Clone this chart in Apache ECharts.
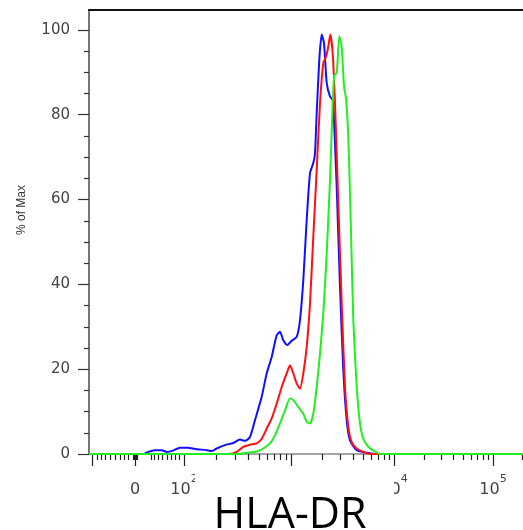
<!DOCTYPE html>
<html>
<head>
<meta charset="utf-8">
<script src="https://cdn.jsdelivr.net/npm/echarts@6/dist/echarts.min.js"></script>
<style>html,body{margin:0;padding:0;background:#fff;}#c{width:523px;height:530px;}</style>
</head>
<body>
<div id="c"></div>
<script>
// x values are display channels of the biexponential (logicle) axis; y values are % of Max
const xMin = 0, xMax = 434;
const majorTickPos = [3, 46, 95, 202, 305, 404];
const labelPos = [46, 95, 202, 305, 404];
const labelBase = ['0', '10', '10', '10', '10'];
const labelExp = ['', '2', '3', '4', '5'];
const linearMinorTicks = [8, 12, 16, 21, 26, 31, 35, 39, 44, 45, 47, 48, 62, 65, 69, 73, 78, 82, 86, 90];
const decadeAnchors = [95, 202, 305, 404, 500];
const yTicks = [0, 20, 40, 60, 80, 100];
const yMinorTicks = [5, 10, 15, 25, 30, 35, 45, 50, 55, 65, 70, 75, 85, 90, 95];

const blueCurve = [[0,0],[55,0],[59.3,0.5],[66,0.9],[72.7,0.9],[77.7,0.5],[84,0.8],[91,1.5],[99.3,1.5],[106,1.2],[117.7,0.9],[122.7,0.7],[127.7,1.3],[136,2.1],[144.3,2.6],[151,3.4],[156,3.1],[161,4.0],[166,8.0],[172.7,13.5],[177.7,19.0],[182.7,22.9],[187.7,28.0],[191,28.8],[194.3,26.8],[198.3,25.7],[202.7,26.7],[207.7,27.6],[211,31.6],[214.3,41.0],[217.7,55.2],[221,66.2],[224.3,68.6],[226,70.9],[227.7,80.4],[230.3,93.0],[232.7,98.9],[235,96.9],[237.7,87.5],[241,84.3],[243.7,83.5],[245,78.8],[247.7,63.0],[251,39.4],[254.3,19.8],[257.7,8.0],[261,3.2],[267.7,0.9],[277.7,0.3],[287.7,0],[434,0]];
const redCurve = [[0,0],[140,0],[147.7,0.5],[154.3,1.7],[161,2.2],[167.7,2.5],[172.7,3.6],[177.7,6.0],[182.7,8.4],[187.7,11.9],[192.7,15.8],[197.7,19.0],[201,20.9],[204.3,19.0],[207.7,16.6],[211,15.4],[214.3,19.0],[217.7,25.3],[221,35.5],[224.3,51.2],[227.7,67.0],[231,82.7],[234.3,92.2],[237,93.7],[239.3,96.1],[241.3,98.9],[243.7,94.5],[246,82.7],[249.3,59.1],[252.7,35.5],[256,15.8],[259.3,6.4],[262.7,2.8],[267.7,1.3],[274.3,0.5],[281,0],[434,0]];
const greenCurve = [[0,0],[150,0],[154.3,0.2],[167.7,0.6],[174.3,1.3],[181,2.5],[186,4.4],[191,7.2],[196,10.3],[201,13.1],[204.3,12.7],[209.3,11.1],[214.3,9.5],[217.7,7.6],[221,7.2],[224.3,9.5],[227.7,15.8],[231,23.7],[234.3,33.2],[237.7,47.3],[241,64.6],[243.7,82.7],[245.3,89.4],[247.7,89.8],[250.3,98.5],[252.7,96.1],[255,86.7],[257,83.9],[259.3,74.9],[261.7,55.2],[264.3,31.6],[267.7,15.8],[271,7.2],[274.3,3.6],[279.3,1.7],[286,0.6],[291,0],[434,0]];

// log-spaced minor ticks between decade anchors
const minorTicks = linearMinorTicks.slice();
for (let i = 0; i < decadeAnchors.length - 1; i++) {
  const a = decadeAnchors[i], b = decadeAnchors[i + 1];
  for (let m = 2; m <= 9; m++) {
    const p = a + (b - a) * Math.log10(m);
    if (p < xMax) minorTicks.push(p);
  }
}

const FONT = 'DejaVu Sans';
const chart = echarts.init(document.getElementById('c'), null, {renderer: 'canvas'});
chart.setOption({
  animation: false,
  backgroundColor: '#fff',
  grid: {left: 89, right: 0, top: 10, bottom: 76, containLabel: false},
  xAxis: [
    {
      type: 'value', min: xMin, max: xMax, position: 'bottom',
      axisLine: {show: true, lineStyle: {color: '#888', width: 1.5}},
      axisTick: {show: true, customValues: majorTickPos, length: 12, lineStyle: {color: '#222', width: 1.2}},
      axisLabel: {
        show: true, customValues: labelPos, margin: 20,
        formatter: function (v) {
          let idx = 0, best = 1e9;
          labelPos.forEach(function (p, i) { if (Math.abs(p - v) < best) { best = Math.abs(p - v); idx = i; } });
          return labelExp[idx] ? '{n|' + labelBase[idx] + '}{s|' + labelExp[idx] + '}' : '{n|' + labelBase[idx] + '}';
        },
        rich: {
          n: {fontFamily: FONT, fontSize: 16, color: '#444', lineHeight: 24, verticalAlign: 'bottom'},
          s: {fontFamily: FONT, fontSize: 11, color: '#444', lineHeight: 12, verticalAlign: 'top'}
        }
      },
      splitLine: {show: false}
    },
    {
      type: 'value', min: xMin, max: xMax, position: 'bottom',
      axisLine: {show: false},
      axisTick: {show: true, customValues: minorTicks, length: 6, lineStyle: {color: '#222', width: 1.2}},
      axisLabel: {show: false},
      splitLine: {show: false}
    },
    {
      type: 'value', min: xMin, max: xMax, position: 'top',
      axisLine: {show: true, lineStyle: {color: '#111', width: 2}},
      axisTick: {show: false}, axisLabel: {show: false}, splitLine: {show: false}
    }
  ],
  yAxis: [
    {
      type: 'value', min: 0, max: 104.7, position: 'left',
      axisLine: {show: true, lineStyle: {color: '#777', width: 2}},
      axisTick: {show: true, customValues: yTicks, length: 11, lineStyle: {color: '#333', width: 1.2}},
      axisLabel: {show: true, customValues: yTicks, margin: 19, fontFamily: FONT, fontSize: 15, color: '#444'},
      splitLine: {show: false}
    },
    {
      type: 'value', min: 0, max: 104.7, position: 'left',
      axisLine: {show: false},
      axisTick: {show: true, customValues: yMinorTicks, length: 5, lineStyle: {color: '#333', width: 1.2}},
      axisLabel: {show: false}, splitLine: {show: false}
    }
  ],
  series: [
    {type: 'line', data: blueCurve, xAxisIndex: 0, yAxisIndex: 0, showSymbol: false, smooth: 0.2, lineStyle: {color: '#1010ff', width: 2}, z: 2},
    {type: 'line', data: redCurve, xAxisIndex: 0, yAxisIndex: 0, showSymbol: false, smooth: 0.2, lineStyle: {color: '#ff1010', width: 2}, z: 3},
    {type: 'line', data: greenCurve, xAxisIndex: 0, yAxisIndex: 0, showSymbol: false, smooth: 0.2, lineStyle: {color: '#22ee22', width: 2}, z: 4}
  ],
  graphic: [
    {type: 'rect', shape: {x: 195, y: 470, width: 199, height: 60}, style: {fill: '#fff'}, z: 100},
    {type: 'text', x: 290, y: 516, z: 101, style: {text: 'HLA-DR', font: '43px "Open Sans"', fill: '#000', align: 'center', verticalAlign: 'middle'}},
    {type: 'text', x: 22, y: 210, rotation: Math.PI / 2, z: 101, style: {text: '% of Max', font: '12px "Liberation Sans"', fill: '#333', align: 'center', verticalAlign: 'middle'}}
  ]
});
</script>
</body>
</html>
